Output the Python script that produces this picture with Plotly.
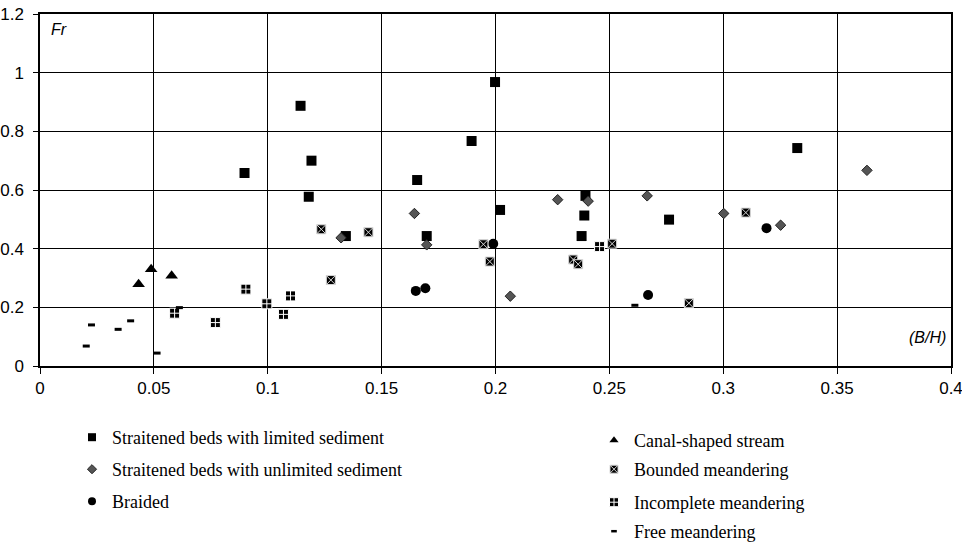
import plotly.graph_objects as go

# Straitened beds with limited sediment
lim_x = [0.0898, 0.1144, 0.1192, 0.1180, 0.1343, 0.1656, 0.1698, 0.1895, 0.1998, 0.2020, 0.2395, 0.2390, 0.2378, 0.2762, 0.3325]
lim_y = [0.658, 0.887, 0.700, 0.577, 0.443, 0.634, 0.443, 0.767, 0.968, 0.532, 0.580, 0.513, 0.443, 0.499, 0.743]

# Straitened beds with unlimited sediment
unl_x = [0.1322, 0.1644, 0.1698, 0.2065, 0.2273, 0.2407, 0.2666, 0.3002, 0.3252, 0.3631]
unl_y = [0.437, 0.520, 0.413, 0.238, 0.567, 0.562, 0.580, 0.520, 0.480, 0.667]

# Braided
br_x = [0.1650, 0.1692, 0.1990, 0.2670, 0.3190]
br_y = [0.256, 0.265, 0.417, 0.242, 0.470]

# Canal-shaped stream
can_x = [0.0433, 0.0488, 0.0578]
can_y = [0.279, 0.330, 0.308]

# Bounded meandering
bm_x = [0.1235, 0.1277, 0.1442, 0.1947, 0.1975, 0.2341, 0.2363, 0.2512, 0.3099, 0.2849]
bm_y = [0.466, 0.293, 0.456, 0.415, 0.356, 0.363, 0.347, 0.417, 0.523, 0.214]

# Incomplete meandering
im_x = [0.0591, 0.0770, 0.0904, 0.0996, 0.1069, 0.1100, 0.2457]
im_y = [0.180, 0.148, 0.262, 0.212, 0.176, 0.239, 0.407]

# Free meandering
fm_x = [0.0203, 0.0226, 0.0343, 0.0398, 0.0514, 0.0612, 0.2612]
fm_y = [0.068, 0.140, 0.125, 0.154, 0.044, 0.199, 0.207]

x_ticks = [0, 0.05, 0.1, 0.15, 0.2, 0.25, 0.3, 0.35, 0.4]
x_tick_text = ["0", "0.05", "0.1", "0.15", "0.2", "0.25", "0.3", "0.35", "0.4"]
y_ticks = [0, 0.2, 0.4, 0.6, 0.8, 1.0, 1.2]
y_tick_text = ["0", "0.2", "0.4", "0.6", "0.8", "1", "1.2"]

series = [
    ("Straitened beds with limited sediment", lim_x, lim_y,
     dict(symbol="square", size=10, color="black"),
     dict(symbol="square", size=8, color="black")),
    ("Straitened beds with unlimited sediment", unl_x, unl_y,
     dict(symbol="diamond", size=8, color="#555555", line=dict(color="#222222", width=1)),
     dict(symbol="diamond", size=7, color="#555555", line=dict(color="#222222", width=1))),
    ("Braided", br_x, br_y,
     dict(symbol="circle", size=10, color="black"),
     dict(symbol="circle", size=8, color="black")),
    ("Canal-shaped stream", can_x, can_y,
     dict(symbol="triangle-up", size=11, color="black"),
     dict(symbol="triangle-up", size=8, color="black")),
    ("Bounded meandering", bm_x, bm_y,
     dict(symbol="square-x", size=9, color="black", line=dict(color="#d8d8d8", width=1)),
     dict(symbol="square-x", size=8, color="black", line=dict(color="#d8d8d8", width=1))),
    ("Incomplete meandering", im_x, im_y,
     dict(symbol="square-cross", size=10, color="black", line=dict(color="white", width=1)),
     dict(symbol="square-cross", size=9, color="black", line=dict(color="white", width=1))),
    ("Free meandering", fm_x, fm_y,
     dict(symbol="line-ew", size=5, color="black", line=dict(color="black", width=3)),
     dict(symbol="line-ew", size=4, color="black", line=dict(color="black", width=2.5))),
]

W, H = 962, 542
# legend row centres (px) and column positions (px of legend box left)
legend_rows = [438, 470, 502, 441, 470, 503, 532]
legend_cols = [72, 72, 72, 594, 594, 594, 594]

fig = go.Figure()
layout_legends = {}
legend_font = dict(family="Liberation Serif, Times New Roman", size=18, color="black")
plot_top, plot_bottom = 14, 366
for i, (name, xs, ys, mk, lmk) in enumerate(series):
    lname = "legend" if i == 0 else f"legend{i+1}"
    fig.add_trace(go.Scatter(x=xs, y=ys, mode="markers", name=name, marker=mk,
                             showlegend=False, cliponaxis=False))
    fig.add_trace(go.Scatter(x=[None], y=[None], mode="markers", name=name, marker=lmk,
                             showlegend=True, legend=lname))
    top_px = legend_rows[i] - 19
    layout_legends[lname] = dict(
        xref="container", yref="container",
        x=legend_cols[i] / W, y=1 - top_px / H,
        xanchor="left", yanchor="top", font=legend_font,
        itemsizing="trace", bgcolor="rgba(0,0,0,0)")

axis_font = dict(family="Liberation Sans, Arial", size=17, color="black")

fig.update_xaxes(range=[0, 0.4], tickvals=x_ticks, ticktext=x_tick_text,
                 showgrid=True, gridcolor="black", gridwidth=1.3,
                 showline=True, linecolor="black", linewidth=1.5, mirror=True,
                 ticks="outside", ticklen=6, tickcolor="black", tickwidth=1.3,
                 zeroline=False, tickfont=axis_font, automargin=False,
                 ticklabeloverflow="allow", tickangle=0)
fig.update_yaxes(range=[0, 1.2], tickvals=y_ticks, ticktext=y_tick_text,
                 showgrid=True, gridcolor="black", gridwidth=1.3,
                 showline=True, linecolor="black", linewidth=1.5, mirror=True,
                 ticks="outside", ticklen=5, tickcolor="black", tickwidth=1.3,
                 zeroline=False, tickfont=axis_font, automargin=False,
                 ticklabelstandoff=6, ticklabeloverflow="allow")

fig.update_layout(
    width=W, height=H,
    margin=dict(l=40, r=11, t=plot_top, b=H - plot_bottom, autoexpand=False),
    plot_bgcolor="white", paper_bgcolor="white",
    showlegend=True,
    annotations=[
        dict(text="<i>Fr</i>", x=0.01, y=0.985, xref="paper", yref="paper",
             xanchor="left", yanchor="top", showarrow=False,
             font=dict(family="Liberation Sans, Arial", size=16, color="black")),
        dict(text="<i>(B/H)</i>", x=0.997, y=0.05, xref="paper", yref="paper",
             xanchor="right", yanchor="bottom", showarrow=False,
             font=dict(family="Liberation Sans, Arial", size=16, color="black")),
    ],
    **layout_legends,
)

fig.write_html("out.html")
